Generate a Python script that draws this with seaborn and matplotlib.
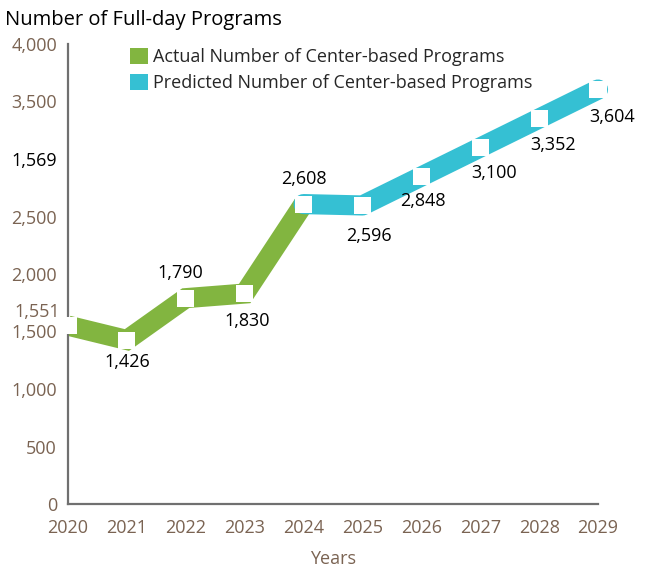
import matplotlib
matplotlib.use("Agg")
import matplotlib.pyplot as plt
import seaborn as sns
import pandas as pd

years = [2020, 2021, 2022, 2023, 2024, 2025, 2026, 2027, 2028, 2029]
actual_years = [2020, 2021, 2022, 2023, 2024]
actual_values = [1551, 1426, 1790, 1830, 2608]
pred_years = [2024, 2025, 2026, 2027, 2028, 2029]
pred_values = [2608, 2596, 2848, 3100, 3352, 3604]
y_ticks = [0, 500, 1000, 1500, 2000, 2500, 3000, 3500, 4000]
y_tick_labels = ["0", "500", "1,000", "1,500", "2,000", "2,500", "1,569", "3,500", "4,000"]
point_labels = ["1,551", "1,426", "1,790", "1,830", "2,608", "2,596", "2,848", "3,100", "3,352", "3,604"]
all_values = [1551, 1426, 1790, 1830, 2608, 2596, 2848, 3100, 3352, 3604]

GREEN = "#82b540"
CYAN = "#35c0d3"
BROWN = "#7a6352"
FONT = "Open Sans"
FS = 13

sns.set_style("white")
plt.rcParams['font.family'] = [FONT, 'DejaVu Sans']

fig = plt.figure(figsize=(6.45, 5.67), dpi=100)
ax = fig.add_axes([68/645, 1-504/567, (598-68)/645, (504-44)/567])

df_a = pd.DataFrame({"year": actual_years, "value": actual_values})
df_p = pd.DataFrame({"year": pred_years, "value": pred_values})

sns.lineplot(data=df_a, x="year", y="value", ax=ax, color=GREEN, linewidth=14.5,
             solid_capstyle="butt", solid_joinstyle="miter", clip_on=True, zorder=2)
sns.lineplot(data=df_p, x="year", y="value", ax=ax, color=CYAN, linewidth=14.5,
             solid_capstyle="round", solid_joinstyle="round", clip_on=False, zorder=3)
df_all = pd.DataFrame({"year": years, "value": all_values})
sns.scatterplot(data=df_all, x="year", y="value", ax=ax, marker="s", s=150,
                color="white", edgecolor="none", zorder=4, clip_on=False)

ax.set_xlim(2020, 2029)
ax.set_ylim(0, 4000)
ax.set_xticks(years)
ax.set_xticklabels([str(y) for y in years], color=BROWN, fontsize=FS)
ax.set_yticks(y_ticks)
ax.set_yticklabels(y_tick_labels, fontsize=FS)
for lbl, t in zip(ax.get_yticklabels(), y_tick_labels):
    lbl.set_color("black" if t == "1,569" else BROWN)
ax.tick_params(axis="both", direction="in", length=10, width=1.2, color="#333333")
ax.tick_params(axis="y", pad=8)
ax.tick_params(axis="x", pad=11)
for s in ["top", "right"]:
    ax.spines[s].set_visible(False)
for s in ["left", "bottom"]:
    ax.spines[s].set_color("#707070")
    ax.spines[s].set_linewidth(1.6)
ax.set_xlabel("")
ax.set_ylabel("")
fig.text((68 + 530 / 2) / 645, 1 - 559 / 567, "Years", ha="center", va="center",
         color=BROWN, fontsize=FS)

# extra brown label
ax.text(-0.015, 1670, "1,551", transform=ax.get_yaxis_transform(), ha="right", va="center",
        color=BROWN, fontsize=FS)

# data labels (offsets in points)
offsets = {1: (0, -16), 2: (-4, 18), 3: (2, -20), 4: (0, 18), 5: (5, -22),
           6: (1, -18), 7: (10, -18), 8: (10, -19), 9: (10, -20)}
for i, (x, v) in enumerate(zip(years, all_values)):
    if i == 0:
        continue
    dx, dy = offsets[i]
    ax.annotate(point_labels[i], (x, v), xytext=(dx, dy), textcoords="offset points",
                ha="center", va="center", fontsize=FS, color="black", annotation_clip=False)

fig.text(5/645, 1-20/567, "Number of Full-day Programs", ha="left", va="center", fontsize=14.5, color="black")

# legend
from matplotlib.patches import Patch
handles = [Patch(facecolor=GREEN, edgecolor="none", label="Actual Number of Center-based Programs"),
           Patch(facecolor=CYAN, edgecolor="none", label="Predicted Number of Center-based Programs")]
leg = ax.legend(handles=handles, loc="upper left", bbox_to_anchor=(62/530, 0.992), frameon=False,
                fontsize=FS, handlelength=1.0, handleheight=1.0, handletextpad=0.25, labelspacing=0.45,
                borderpad=0, borderaxespad=0)

fig.savefig("out.png", dpi=100)
